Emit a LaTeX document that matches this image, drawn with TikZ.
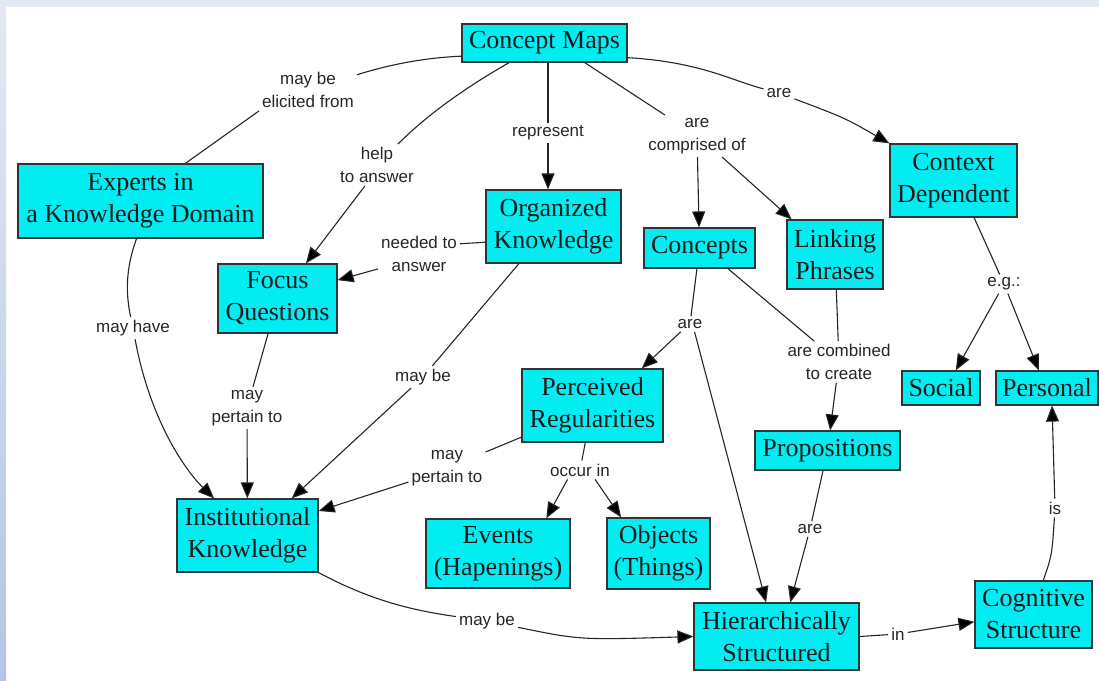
\documentclass[tikz,border=0pt]{standalone}
\usepackage{fontspec}
\setmainfont{Liberation Serif}
\newfontfamily\lblfont{Liberation Sans}
\usetikzlibrary{arrows.meta}
\definecolor{boxfill}{RGB}{0,238,242}
\definecolor{bandtop}{RGB}{226,233,243}
\definecolor{bandbot}{RGB}{178,198,228}
\begin{document}
\begin{tikzpicture}[x=1pt,y=-1pt,
  cbox/.style={draw=black!80, line width=1.2pt, fill=boxfill, align=center, inner sep=0pt,
    font=\fontsize{26}{32}\selectfont, text=black!90},
  lbl/.style={align=center, inner sep=3pt, font=\lblfont\fontsize{17}{23}\selectfont, text=black!85},
  ln/.style={draw=black!85, line width=1.1pt},
  arr/.style={ln, -{Triangle[length=16pt,width=13pt,fill=black]}}]
\useasboundingbox (0,0) rectangle (1099,680);
\fill[white] (0,0) rectangle (1099,680);
\fill[bandtop] (0,0) rectangle (1099,7);
\shade[top color=bandtop, bottom color=bandbot] (0,0) rectangle (6,680);

% concepts
\node[cbox, minimum width=165pt, minimum height=38pt] (cm) at (544.5,43) {Concept Maps};
\node[cbox, minimum width=245pt, minimum height=74pt] (exp) at (140.5,201) {Experts in\\a Knowledge Domain};
\node[cbox, minimum width=119pt, minimum height=69pt] (fq) at (277.5,298.5) {Focus\\Questions};
\node[cbox, minimum width=135pt, minimum height=73pt] (ok) at (553.5,226.5) {Organized\\Knowledge};
\node[cbox, minimum width=111pt, minimum height=40pt] (con) at (699.5,248) {Concepts};
\node[cbox, minimum width=96pt, minimum height=69pt] (lp) at (835,254.5) {Linking\\Phrases};
\node[cbox, minimum width=127pt, minimum height=73pt] (ctx) at (953.5,180.5) {Context\\Dependent};
\node[cbox, minimum width=78pt, minimum height=34pt] (soc) at (941,388) {Social};
\node[cbox, minimum width=102pt, minimum height=34pt] (per) at (1047,388) {Personal};
\node[cbox, minimum width=141pt, minimum height=73pt] (pr) at (592.5,405.5) {Perceived\\Regularities};
\node[cbox, minimum width=145pt, minimum height=39pt] (prop) at (827.5,450.5) {Propositions};
\node[cbox, minimum width=141pt, minimum height=73pt] (ik) at (247.5,535.5) {Institutional\\Knowledge};
\node[cbox, minimum width=144pt, minimum height=69pt] (ev) at (498,553.5) {Events\\(Hapenings)};
\node[cbox, minimum width=103pt, minimum height=71pt] (obj) at (658.5,553.5) {Objects\\(Things)};
\node[cbox, minimum width=165pt, minimum height=67pt] (hs) at (776.5,636.5) {Hierarchically\\Structured};
\node[cbox, minimum width=117pt, minimum height=67pt] (cog) at (1033.5,614.5) {Cognitive\\Structure};

% linking phrases
\node[lbl] (l1) at (308,90) {may be\\elicited from};
\node[lbl] (l2) at (377,165) {help\\to answer};
\node[lbl] (l3) at (548,133) {represent};
\node[lbl] (l4) at (697,136) {are\\comprised of};
\node[lbl] (l5) at (779,93) {are};
\node[lbl] (l6) at (419,254) {needed to\\answer};
\node[lbl] (l7) at (133,328) {may have};
\node[lbl] (l8) at (247,408) {may\\pertain to};
\node[lbl] (l9) at (423,377) {may be};
\node[lbl] (l10) at (690,324) {are};
\node[lbl] (l11) at (839,362) {are combined\\to create};
\node[lbl] (l12) at (1004,284) {e.g.:};
\node[lbl] (l13) at (447,468) {may\\pertain to};
\node[lbl] (l14) at (580,470) {occur in};
\node[lbl] (l15) at (810,529) {are};
\node[lbl] (l16) at (487,621) {may be};
\node[lbl] (l17) at (898,634) {in};
\node[lbl] (l18) at (1055,508) {is};

% connectors
\draw[ln] (cm.189) .. controls (420,58) and (385,66) .. (l1);
\draw[ln] (l1.south west) -- (exp.40);

\draw[ln] (cm.209) .. controls (470,85) and (430,112) .. (l2);
\draw[arr] (l2.240) -- (fq.51);

\draw[ln] (cm.south -| l3) -- (l3);
\draw[arr] (l3) -- (ok.north -| l3);

\draw[ln] (cm.334) -- (l4);
\draw[arr] (l4) -- (con);
\draw[arr] (l4.320) -- (lp.141);

\draw[ln] (cm.350) .. controls (700,62) and (730,80) .. (l5);
\draw[arr] (l5) .. controls (845,118) .. (ctx.north west);

\draw[ln] (ok.193) -- (l6.14);
\draw[arr] (l6.200) -- (fq.17);

\draw[ln] (exp.264) .. controls (125,270) and (126,295) .. (l7);
\draw[arr] (l7) .. controls (150,420) and (185,470) .. (ik.132);

\draw[ln] (fq.255) -- (l8);
\draw[arr] (l8) -- (ik);

\draw[ln] (ok.227) -- (l9);
\draw[arr] (l9) -- (ik.40);

\draw[ln] (con) -- (l10);
\draw[arr] (l10.220) -- (pr.37);
\draw[arr] (l10.300) -- (hs.107);

\draw[ln] (con.324) -- (l11);
\draw[ln] (lp) -- (l11);
\draw[arr] (l11) -- (prop);

\draw[ln] (ctx.299) -- (l12);
\draw[arr] (l12) -- (soc.50);
\draw[arr] (l12) -- (per.115);

\draw[ln] (pr.204) -- (l13);
\draw[arr] (l13.200) -- (ik.19);

\draw[ln] (pr) -- (l14);
\draw[arr] (l14.217) -- (ev.36);
\draw[arr] (l14.328) -- (obj.136);

\draw[ln] (prop) -- (l15);
\draw[arr] (l15) -- (hs.68);

\draw[ln] (ik.south east) .. controls (370,600) and (410,610) .. (l16);
\draw[arr] (l16) .. controls (580,640) .. (hs.west);

\draw[ln] (hs.east) -- (l17);
\draw[arr] (l17) -- (cog.187);

\draw[ln] (cog.74) .. controls (1052,555) .. (l18);
\draw[arr] (l18) -- (per.286);
\end{tikzpicture}
\end{document}
